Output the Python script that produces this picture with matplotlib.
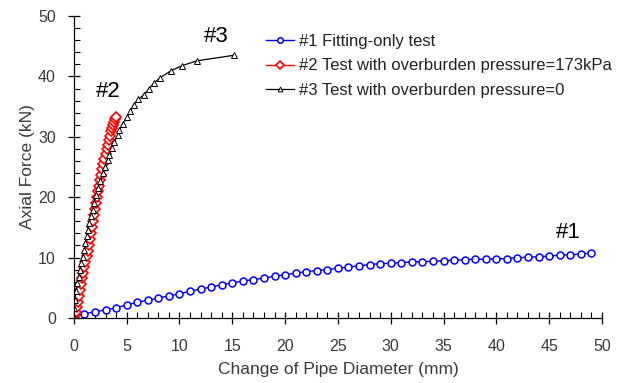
import matplotlib
matplotlib.use("Agg")
import matplotlib.pyplot as plt
from matplotlib.ticker import MultipleLocator

plt.rcParams['font.family'] = ['Liberation Sans', 'DejaVu Sans']

# Series #1: fitting-only test
x1 = [0, 1, 2, 3, 4, 5, 6, 7, 8, 9, 10, 11, 12, 13, 14, 15, 16, 17, 18, 19, 20, 21,
      22, 23, 24, 25, 26, 27, 28, 29, 30, 31, 32, 33, 34, 35, 36, 37, 38, 39, 40,
      41, 42, 43, 44, 45, 46, 47, 48, 49]
y1 = [0.1, 0.66, 1.05, 1.3, 1.65, 2.15, 2.6, 2.9, 3.3, 3.65, 4.0, 4.4, 4.8, 5.1, 5.5,
      5.8, 6.1, 6.35, 6.6, 6.9, 7.15, 7.4, 7.67, 7.84, 8.0, 8.22, 8.44, 8.61, 8.83,
      9.0, 9.05, 9.16, 9.27, 9.33, 9.38, 9.49, 9.55, 9.66, 9.71, 9.71, 9.82, 9.82,
      9.99, 10.04, 10.15, 10.21, 10.43, 10.43, 10.6, 10.71]

# Series #2: overburden pressure = 173 kPa
x2 = [0, 0.1, 0.2, 0.3, 0.4, 0.5, 0.6, 0.7, 0.8, 0.9, 1.0, 1.1, 1.2, 1.3, 1.4, 1.5,
      1.6, 1.7, 1.8, 1.9, 2.0, 2.1, 2.2, 2.3, 2.4, 2.5, 2.6, 2.7, 2.8, 2.9, 3.0, 3.1,
      3.2, 3.3, 3.4, 3.5, 3.6, 3.7, 3.8, 3.9, 4.0]
y2 = [0, 0.4, 1.0, 1.8, 2.7, 3.6, 4.6, 5.6, 6.6, 7.5, 8.4, 9.3, 10.2, 11.1, 12.0,
      13.0, 14.0, 15.0, 16.0, 17.0, 18.0, 19.0, 20.0, 21.0, 21.9, 22.8, 23.7, 24.6,
      25.5, 26.3, 27.1, 27.9, 28.7, 29.5, 30.2, 30.9, 31.5, 32.0, 32.5, 32.9, 33.2]

# Series #3: overburden pressure = 0
x3 = [0, 0.02, 0.08, 0.21, 0.33, 0.46, 0.59, 0.71, 0.84, 0.97, 1.09, 1.21, 1.35,
      1.47, 1.63, 1.78, 1.91, 2.1, 2.26, 2.48, 2.73, 2.96, 3.21, 3.37, 3.59, 3.84,
      4.16, 4.32, 4.64, 5.05, 5.36, 5.65, 6.09, 6.6, 7.1, 7.58, 8.18, 9.16, 10.26,
      11.69, 15.13]
y3 = [0.2, 1.6, 3.0, 4.4, 5.7, 6.8, 7.9, 9.1, 10.1, 11.3, 12.4, 13.5, 14.6, 15.7,
      16.8, 17.9, 19.0, 20.4, 21.5, 22.6, 24.0, 25.0, 26.2, 27.0, 28.1, 29.2, 30.3,
      31.2, 32.2, 33.3, 34.2, 35.3, 36.2, 36.9, 37.9, 38.9, 39.8, 40.9, 41.8, 42.6,
      43.5]

labels = ["#1 Fitting-only test",
          "#2 Test with overburden pressure=173kPa",
          "#3 Test with overburden pressure=0"]

fig = plt.figure(figsize=(6.31, 3.83), dpi=100)
ax = fig.add_axes([0.117, 0.170, 0.837, 0.788])

ax.plot(x1, y1, color='#0000ff', lw=1.0, marker='o', ms=5, mfc='white',
        mec='#0000ff', mew=1.1, label=labels[0])
ax.plot(x2, y2, color='#ff0000', lw=1.0, marker='D', ms=5, mfc='white',
        mec='#ff0000', mew=1.2, label=labels[1])
ax.plot(x3, y3, color='black', lw=0.9, marker='^', ms=4.3, mfc='white',
        mec='black', mew=0.7, label=labels[2])

ax.set_xlim(0, 50)
ax.set_ylim(0, 50)
ax.xaxis.set_major_locator(MultipleLocator(5))
ax.xaxis.set_minor_locator(MultipleLocator(1))
ax.yaxis.set_major_locator(MultipleLocator(10))
ax.yaxis.set_minor_locator(MultipleLocator(2))
ax.tick_params(which='major', direction='inout', length=8, width=0.9,
               labelsize=11.5, colors='black', labelcolor='#3a3a3a')
ax.tick_params(axis='x', which='major', pad=11)
ax.tick_params(axis='y', which='major', pad=9)
ax.tick_params(which='minor', direction='in', length=4, width=0.8)

for s in ['top', 'right']:
    ax.spines[s].set_visible(False)
for s in ['left', 'bottom']:
    ax.spines[s].set_linewidth(0.9)

ax.set_xlabel("Change of Pipe Diameter (mm)", fontsize=12.5, color='#3a3a3a')
ax.set_ylabel("Axial Force (kN)", fontsize=12.5, color='#3a3a3a')
ax.xaxis.set_label_coords(0.5, -0.146)
ax.yaxis.set_label_coords(-0.074, 0.5)

ax.text(46.8, 14.2, "#1", fontsize=16, ha='center', va='center')
ax.text(3.3, 37.5, "#2", fontsize=16, ha='center', va='center')
ax.text(13.5, 46.6, "#3", fontsize=16, ha='center', va='center')

leg = ax.legend(loc='upper left', bbox_to_anchor=(0.351, 0.962), frameon=False,
                fontsize=12, handlelength=1.7, handletextpad=0.3,
                labelspacing=0.55, borderaxespad=0, markerscale=0.8)
for t in leg.get_texts():
    t.set_color('#222222')

fig.savefig("out.png", dpi=100)
